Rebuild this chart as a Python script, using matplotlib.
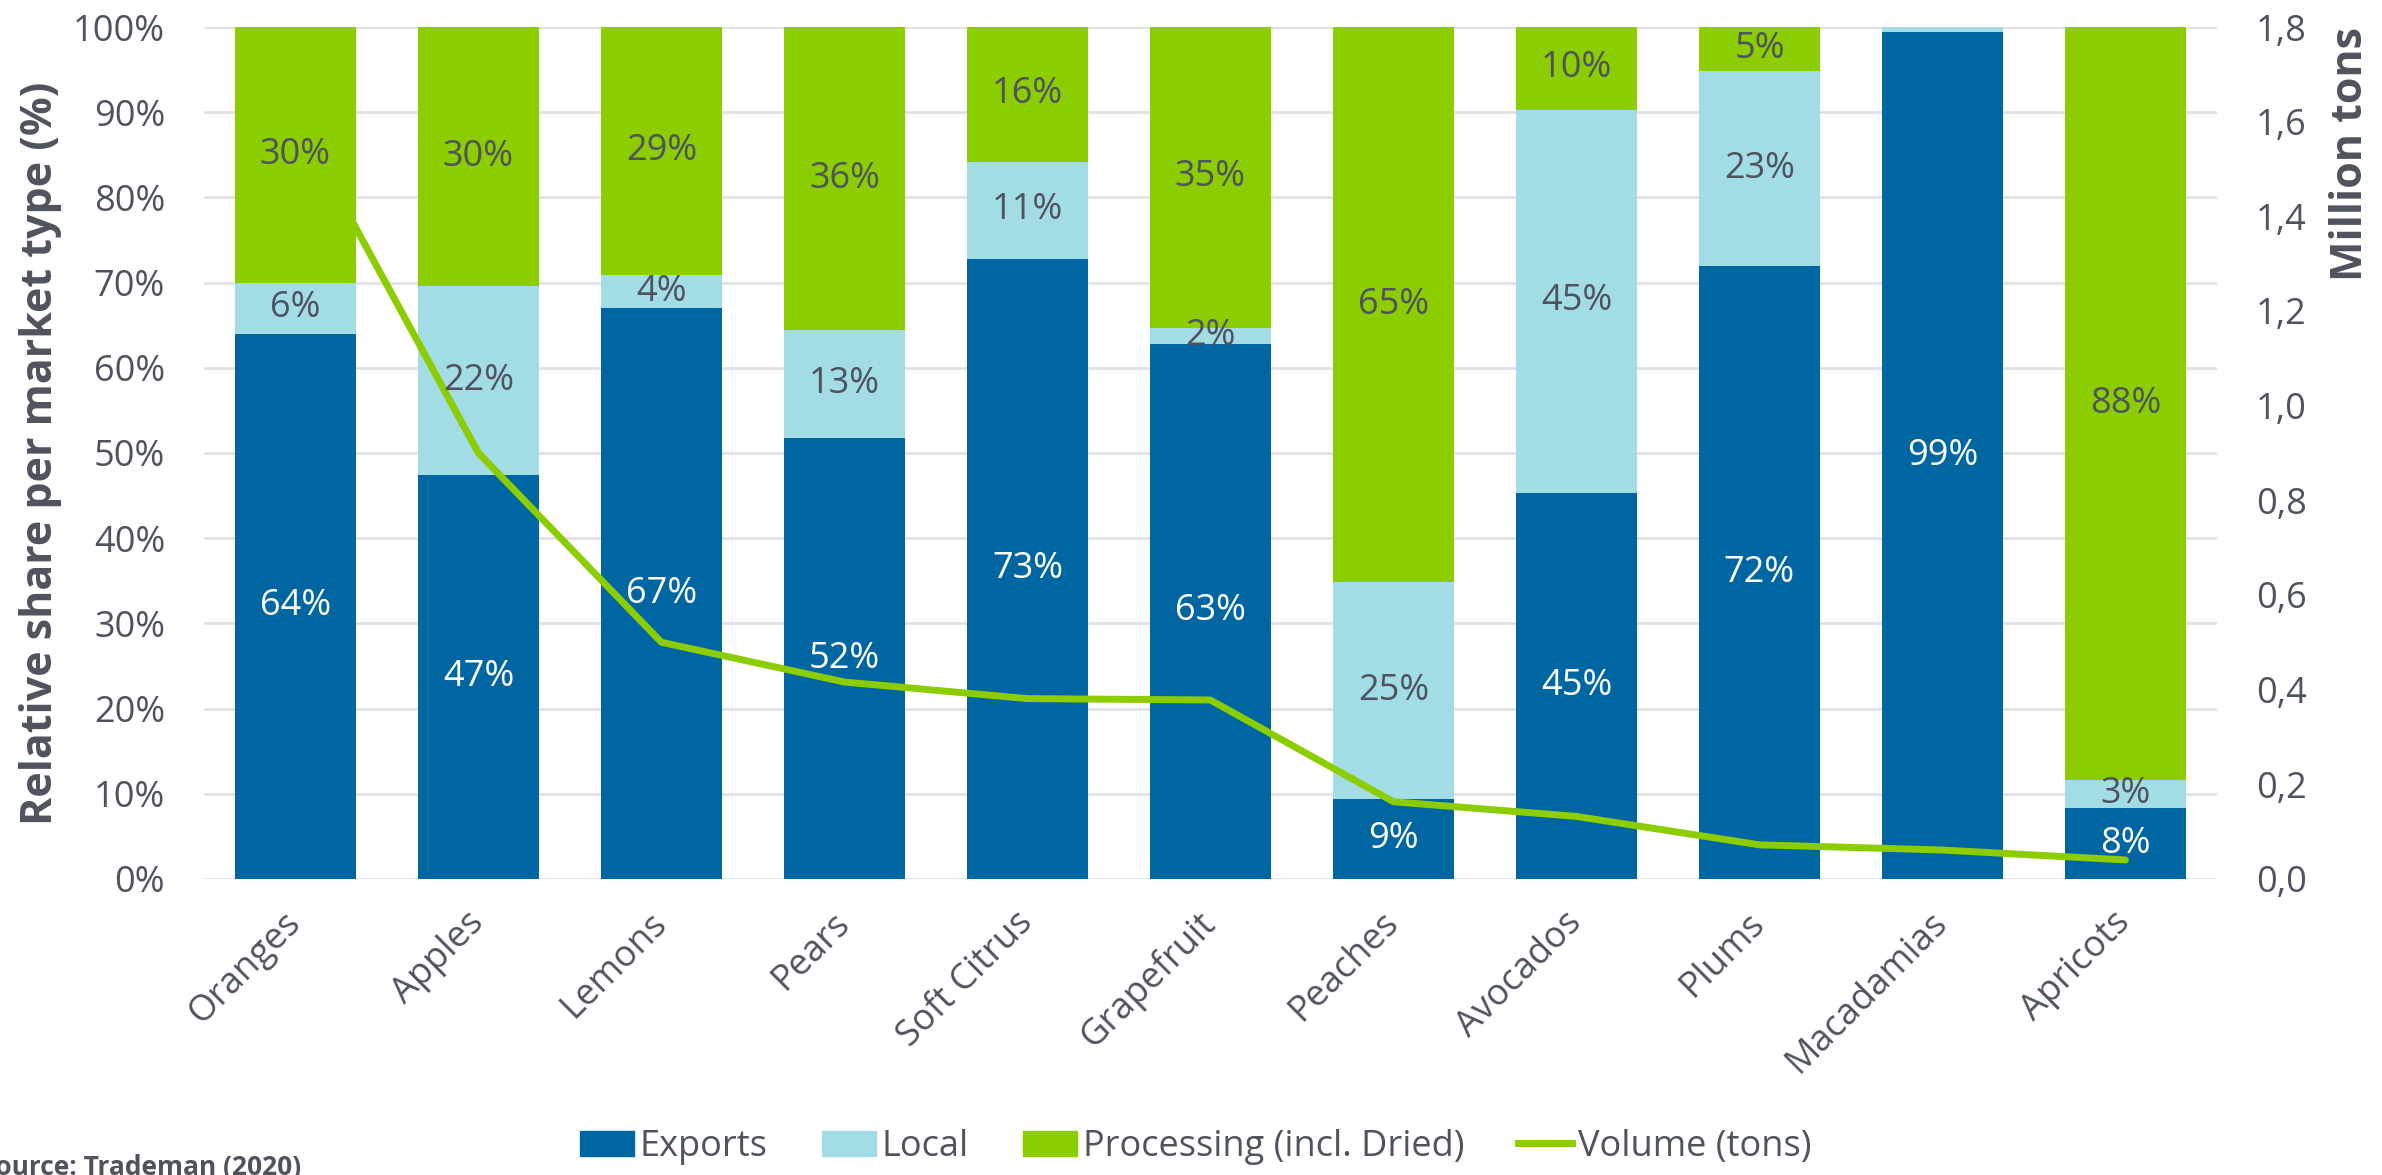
import numpy as np
import matplotlib
matplotlib.use("Agg")
import matplotlib.pyplot as plt
from matplotlib.patches import Patch
from matplotlib.lines import Line2D

plt.rcParams['font.family'] = ['Open Sans', 'DejaVu Sans']

# Data
fruits = ['Oranges', 'Apples', 'Lemons', 'Pears', 'Soft Citrus', 'Grapefruit',
          'Peaches', 'Avocados', 'Plums', 'Macadamias', 'Apricots']
exports = [64.0, 47.4, 67.0, 51.7, 72.8, 62.8, 9.4, 45.3, 71.9, 99.4, 8.3]
local = [6.0, 22.2, 3.9, 12.7, 11.4, 1.9, 25.4, 45.0, 22.9, 0.6, 3.3]
processing = [30.0, 30.4, 29.1, 35.6, 15.8, 35.3, 65.2, 9.7, 5.2, 0.0, 88.4]
volume = [1.61, 0.90, 0.50, 0.416, 0.381, 0.378, 0.163, 0.132, 0.072, 0.061, 0.040]  # million tons

C_EXP = '#0066a1'
C_LOC = '#a2dce4'
C_PRO = '#8ccd00'
TXT = '#4f535e'

fig = plt.figure(figsize=(23.82, 11.75), dpi=100)
ax = fig.add_axes([0.0856, 0.252, 0.8451, 0.725])
ax2 = ax.twinx()

x = np.arange(len(fruits))
w = 0.66
exp = np.array(exports)
loc = np.array(local)
pro = np.array(processing)

b1 = ax.bar(x, exp, w, color=C_EXP, zorder=2)
b2 = ax.bar(x, loc, w, bottom=exp, color=C_LOC, zorder=2)
b3 = ax.bar(x, pro, w, bottom=exp + loc, color=C_PRO, zorder=2)

# volume line (drawn on ax with ax2's scale so the first bar can sit on top of it)
ax2.set_ylim(0, 1.8)
ax.plot(x, volume, color=C_PRO, lw=5, solid_joinstyle='round', solid_capstyle='round',
        transform=ax2.transData, zorder=3)
for cont in (b1, b2, b3):
    cont.patches[0].set_zorder(4)

# segment labels
for i in range(len(fruits)):
    segs = [(exp[i], 0, 'white'), (loc[i], exp[i], TXT), (pro[i], exp[i] + loc[i], TXT)]
    for val, base, col in segs:
        if val < 1.5:
            continue
        ax.text(x[i], base + val / 2, f"{val:.0f}%", ha='center', va='center',
                fontsize=26, color=col, zorder=6)

ax.set_xlim(-0.5, len(fruits) - 0.5)
ax.set_ylim(0, 100)
ax.set_yticks(np.arange(0, 101, 10))
ax.set_yticklabels([f"{v}%" for v in range(0, 101, 10)])
ax.set_xticks(x)
ax.set_xticklabels(fruits, rotation=45, ha='right', va='center', rotation_mode='anchor')
ax.tick_params(axis='x', length=0, pad=28, labelsize=26, labelcolor=TXT)
ax.tick_params(axis='y', length=0, pad=28, labelsize=26, labelcolor=TXT)
ax.yaxis.grid(True, color='#e1e1e6', lw=2)
ax.set_axisbelow(True)
for s in ax.spines.values():
    s.set_visible(False)

ax2.set_yticks(np.arange(0, 1.81, 0.2))
ax2.set_yticklabels([f"{v:.1f}".replace('.', ',') for v in np.arange(0, 1.81, 0.2)])
ax2.tick_params(axis='y', length=0, pad=28, labelsize=26, labelcolor=TXT)
for s in ax2.spines.values():
    s.set_visible(False)

ax.set_ylabel('Relative share per market type (%)', fontsize=31, fontweight='bold',
              color=TXT, labelpad=8)
ax2.set_ylabel('Million tons', fontsize=31, fontweight='bold', color=TXT,
               loc='top', labelpad=16)

handles = [Patch(color=C_EXP), Patch(color=C_LOC), Patch(color=C_PRO),
           Line2D([], [], color=C_PRO, lw=5)]
labels = ['Exports', 'Local', 'Processing (incl. Dried)', 'Volume (tons)']
fig.legend(handles, labels, loc='center', bbox_to_anchor=(0.502, 0.024), ncol=4,
           frameon=False, fontsize=26, labelcolor=TXT, handlelength=1.5,
           handleheight=0.7, handletextpad=0.15, columnspacing=1.5)

fig.text(-0.008, 0.006, 'Source: Trademan (2020)', fontsize=19, fontweight='bold',
         color=TXT, ha='left', va='center')

fig.savefig('out.png', dpi=100)
